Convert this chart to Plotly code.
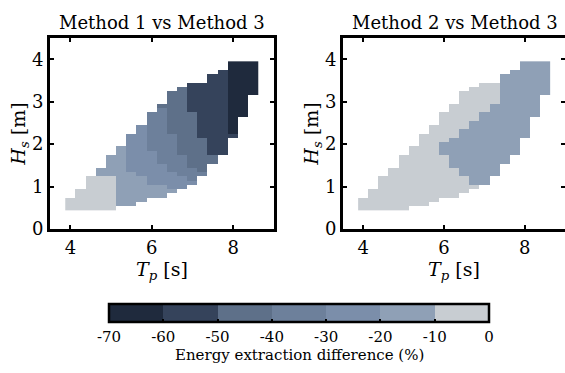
import numpy as np
import plotly.graph_objects as go

# ---------------- data ----------------
tp = [4.0, 4.25, 4.5, 4.75, 5.0, 5.25, 5.5, 5.75, 6.0, 6.25,
      6.5, 6.75, 7.0, 7.25, 7.5, 7.75, 8.0, 8.25, 8.5]
hs = [0.5, 0.6, 0.7, 0.8, 0.9, 1.0, 1.1, 1.2, 1.3, 1.4, 1.5, 1.6,
      1.7, 1.8, 1.9, 2.0, 2.1, 2.2, 2.3, 2.4, 2.5, 2.6, 2.7, 2.8,
      2.9, 3.0, 3.1, 3.2, 3.3, 3.4, 3.5, 3.6, 3.7, 3.8, 3.9]

# per Tp column: (difference %, Hs from, Hs to)
m1_vs_m3 = [
    [(-5, 0.5, 0.7)],
    [(-5, 0.5, 0.9)],
    [(-5, 0.5, 1.2)],
    [(-5, 0.5, 1.2), (-15, 1.3, 1.4)],
    [(-5, 0.5, 1.2), (-15, 1.3, 1.7)],
    [(-15, 0.6, 1.9)],
    [(-15, 0.6, 1.3), (-25, 1.4, 2.2)],
    [(-15, 0.7, 1.2), (-25, 1.3, 2.4)],
    [(-15, 0.8, 1.0), (-25, 1.1, 1.8), (-35, 1.9, 2.7)],
    [(-15, 0.8, 1.0), (-25, 1.1, 1.5), (-35, 1.6, 2.8), (-45, 2.9, 2.9)],
    [(-15, 0.9, 0.9), (-25, 1.0, 1.3), (-35, 1.4, 2.2), (-45, 2.3, 3.2)],
    [(-25, 1.0, 1.2), (-35, 1.3, 1.7), (-45, 1.8, 3.3)],
    [(-25, 1.1, 1.1), (-35, 1.2, 1.4), (-45, 1.5, 2.7), (-55, 2.8, 3.4)],
    [(-35, 1.3, 1.3), (-45, 1.4, 2.1), (-55, 2.2, 3.4)],
    [(-45, 1.6, 1.7), (-55, 1.8, 3.6)],
    [(-55, 1.8, 3.7)],
    [(-55, 2.2, 2.2), (-65, 2.3, 3.9)],
    [(-65, 2.7, 3.9)],
    [(-65, 3.2, 3.9)],
]

m2_vs_m3 = [
    [(-5, 0.5, 0.7)],
    [(-5, 0.5, 0.9)],
    [(-5, 0.5, 1.2)],
    [(-5, 0.5, 1.4)],
    [(-5, 0.5, 1.7)],
    [(-5, 0.6, 1.9)],
    [(-5, 0.6, 2.2)],
    [(-5, 0.7, 2.4)],
    [(-5, 0.8, 1.7), (-15, 1.8, 2.0), (-5, 2.1, 2.7)],
    [(-5, 0.8, 1.4), (-15, 1.5, 2.1), (-5, 2.2, 2.9)],
    [(-5, 0.9, 1.2), (-15, 1.3, 2.3), (-5, 2.4, 3.2)],
    [(-5, 1.0, 1.0), (-15, 1.1, 2.5), (-5, 2.6, 3.3)],
    [(-15, 1.1, 2.7), (-5, 2.8, 3.4)],
    [(-15, 1.3, 2.9), (-5, 3.0, 3.4)],
    [(-15, 1.6, 3.6)],
    [(-15, 1.8, 3.7)],
    [(-15, 2.2, 3.9)],
    [(-15, 2.7, 3.9)],
    [(-15, 3.2, 3.9)],
]

band_edges = [-70, -60, -50, -40, -30, -20, -10, 0]
band_colors = ["#1f2a3d", "#35435b", "#5e7089", "#6d809b",
               "#7b8eaa", "#8fa0b6", "#c8cdd2"]
cbar_ticktext = ["-70", "-60", "-50", "-40", "-30", "-20", "-10", "0"]

titles = ["Method 1 vs Method 3", "Method 2 vs Method 3"]
cbar_title = "Energy extraction difference (%)"


def to_grid(segments):
    z = np.full((len(hs), len(tp)), np.nan)
    for j, col in enumerate(segments):
        for val, lo, hi in col:
            for i, h in enumerate(hs):
                if lo - 1e-6 <= h <= hi + 1e-6:
                    z[i, j] = val
    return z


# discrete colorscale
n = len(band_colors)
cscale = []
for k, c in enumerate(band_colors):
    cscale.append([k / n, c])
    cscale.append([(k + 1) / n, c])

FONT = "DejaVu Serif"
W, H = 565, 373

fig = go.Figure()

dom_x = [[50 / W, 274 / W], [343 / W, 1.0]]
dom_y = [1 - 229 / H, 1 - 38 / H]

for idx, seg in enumerate([m1_vs_m3, m2_vs_m3]):
    xa = "x" if idx == 0 else "x2"
    ya = "y" if idx == 0 else "y2"
    fig.add_trace(go.Heatmap(
        x=tp, y=hs, z=to_grid(seg), xaxis=xa, yaxis=ya,
        colorscale=cscale, zmin=band_edges[0], zmax=band_edges[-1],
        showscale=(idx == 0), hoverongaps=False,
        colorbar=dict(
            orientation="h", x=299 / W, xanchor="center",
            y=1 - 304 / H, yanchor="top",
            len=380 / W, lenmode="fraction", thickness=18,
            xpad=0, ypad=0,
            outlinewidth=2.5, outlinecolor="black",
            tickvals=band_edges, ticktext=cbar_ticktext,
            ticks="inside", ticklen=4, tickwidth=1.5, tickcolor="black",
            tickfont=dict(family=FONT, size=15, color="black"),
        ),
    ))

axis_common = dict(
    showline=True, linewidth=3, linecolor="black", mirror="ticks",
    ticks="inside", ticklen=4, tickwidth=2, tickcolor="black",
    showgrid=False, zeroline=False, automargin=False,
    tickfont=dict(family=FONT, size=18, color="black"),
)

for idx in range(2):
    sx = "" if idx == 0 else "2"
    fig.update_layout(**{
        f"xaxis{sx}": dict(
            axis_common, domain=dom_x[idx], range=[3.5, 9.0],
            tickvals=[4, 6, 8], anchor=f"y{sx}", ticklabelstandoff=0,
            title=dict(text="<i>T<sub>p</sub></i> [s]", standoff=6,
                       font=dict(family=FONT, size=19, color="black")),
        ),
        f"yaxis{sx}": dict(
            axis_common, domain=dom_y, range=[0, 4.5],
            tickvals=[0, 1, 2, 3, 4], anchor=f"x{sx}", ticklabelstandoff=0,
            title=dict(text="<i>H<sub>s</sub></i> [m]", standoff=1,
                       font=dict(family=FONT, size=19, color="black")),
        ),
    })

title_x = [162 / W, 455 / W]
for t, xc in zip(titles, title_x):
    fig.add_annotation(text=t, x=xc, y=1 - 22 / H, xref="paper",
                       yref="paper", showarrow=False,
                       xanchor="center", yanchor="middle",
                       font=dict(family=FONT, size=18, color="black"))

fig.add_annotation(text=cbar_title, x=299 / W, y=1 - 355 / H,
                   xref="paper", yref="paper", showarrow=False,
                   xanchor="center", yanchor="middle",
                   font=dict(family=FONT, size=15, color="black"))

fig.update_layout(
    template="none", width=W, height=H,
    margin=dict(l=0, r=0, t=0, b=0),
    paper_bgcolor="white", plot_bgcolor="white",
    font=dict(family=FONT, color="black"),
    showlegend=False,
)

fig.write_html("out.html",
               config={"displayModeBar": False},
               post_script="document.body.style.margin='0';"
                           "document.body.style.overflow='hidden';")
